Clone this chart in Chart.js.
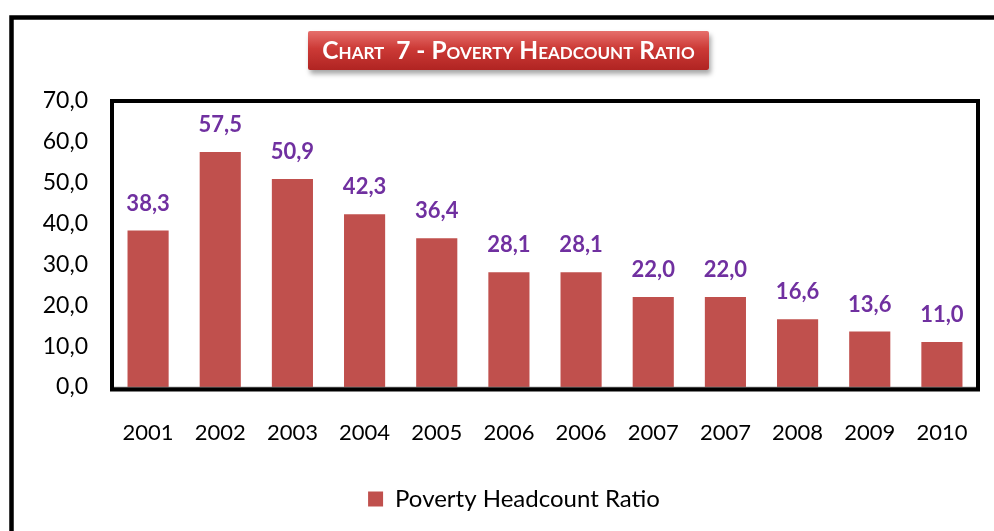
<!DOCTYPE html>
<html>
<head>
<meta charset="utf-8">
<script src="https://cdn.jsdelivr.net/npm/chart.js@4.4.1/dist/chart.umd.min.js"></script>
<style>
  html, body { margin: 0; padding: 0; background: #fff; }
  #wrap { position: relative; width: 994px; height: 531px; }
  #title {
    position: absolute; left: 308px; top: 31px; width: 401px; height: 39px;
    background: linear-gradient(#e66f6c, #cc3a36 45%, #b02422);
    box-shadow: 2px 4px 5px rgba(0,0,0,0.35);
    border-radius: 2px;
    color: #fff; font-family: Lato, sans-serif; font-weight: bold;
    font-size: 24.5px; font-variant: small-caps;
    text-align: center; line-height: 38px; white-space: nowrap;
  }
</style>
</head>
<body>
<div id="wrap">
  <canvas id="povertyChart" width="994" height="531"></canvas>
  <div id="title">Chart&nbsp; 7 - Poverty Headcount Ratio</div>
</div>
<script>
// data
const years = ['2001', '2002', '2003', '2004', '2005', '2006', '2006', '2007', '2007', '2008', '2009', '2010'];
const headcountRatio = [38.3, 57.5, 50.9, 42.3, 36.4, 28.1, 28.1, 22.0, 22.0, 16.6, 13.6, 11.0];
const yTicks = [0, 10, 20, 30, 40, 50, 60, 70];

const fmt = v => v.toFixed(1).replace('.', ',');

// draws outer frame, plot frame and the value labels
const framePlugin = {
    id: 'frames',
    afterLayout(chart) {
        // legend sits a bit right of centre in the original
        chart.legend.left += 25;
        chart.legend.right += 25;
    },
    beforeDraw(chart) {
        const ctx = chart.ctx;
        ctx.save();
        ctx.strokeStyle = '#000';
        ctx.lineWidth = 4.5;
        ctx.beginPath();
        ctx.moveTo(11.5, 531);
        ctx.lineTo(11.5, 17.5);
        ctx.lineTo(994, 17.5);
        ctx.stroke();
        ctx.restore();
    },
    afterDatasetsDraw(chart) {
        const ctx = chart.ctx;
        const a = chart.chartArea;
        ctx.save();
        // 0 line
        ctx.strokeStyle = '#7f7f7f';
        ctx.lineWidth = 1.5;
        ctx.beginPath();
        ctx.moveTo(a.left, a.bottom + 0.5);
        ctx.lineTo(a.right, a.bottom + 0.5);
        ctx.stroke();
        // plot frame
        ctx.strokeStyle = '#000';
        ctx.lineWidth = 4;
        ctx.strokeRect(a.left, a.top, a.right - a.left, a.bottom - a.top + 2.5);

        // value labels
        ctx.fillStyle = '#7030a0';
        ctx.font = 'bold 22px Lato, sans-serif';
        ctx.textAlign = 'center';
        ctx.textBaseline = 'middle';
        chart.getDatasetMeta(0).data.forEach((bar, i) => {
            ctx.fillText(fmt(headcountRatio[i]), bar.x, bar.y - 27);
        });
        ctx.restore();
    }
};

const ctx = document.getElementById('povertyChart').getContext('2d');
const povertyChart = new Chart(ctx, {
    type: 'bar',
    data: {
        labels: years,
        datasets: [{
            label: 'Poverty Headcount Ratio',
            data: headcountRatio,
            backgroundColor: '#c0504d',
            borderWidth: 0,
            categoryPercentage: 1,
            barPercentage: 0.57
        }]
    },
    options: {
        responsive: false,
        animation: false,
        layout: { padding: { left: 0, top: 101, right: 16, bottom: 10 } },
        plugins: {
            tooltip: { enabled: false },
            legend: {
                position: 'bottom',
                labels: {
                    boxWidth: 15,
                    boxHeight: 15,
                    padding: 10,
                    color: '#000',
                    font: { family: 'Lato, sans-serif', size: 24 }
                }
            }
        },
        scales: {
            x: {
                grid: { display: false, drawTicks: false },
                border: { display: false },
                ticks: {
                    color: '#000',
                    padding: 33,
                    autoSkip: false,
                    maxRotation: 0,
                    font: { family: 'Lato, sans-serif', size: 22 }
                },
                afterFit(scale) {
                    scale.height = 90;
                    // tick padding should not push the plot in sideways
                    scale.paddingLeft = 0;
                    scale.paddingRight = 0;
                }
            },
            y: {
                min: 0,
                max: 70,
                grid: { display: false, drawTicks: false },
                border: { display: false },
                afterBuildTicks(scale) {
                    scale.ticks = yTicks.map(v => ({ value: v }));
                },
                ticks: {
                    color: '#000',
                    padding: 24,
                    font: { family: 'Lato, sans-serif', size: 23 },
                    callback: v => fmt(v)
                },
                afterFit(scale) { scale.width = 112; }
            }
        }
    },
    plugins: [framePlugin]
});
</script>
</body>
</html>
